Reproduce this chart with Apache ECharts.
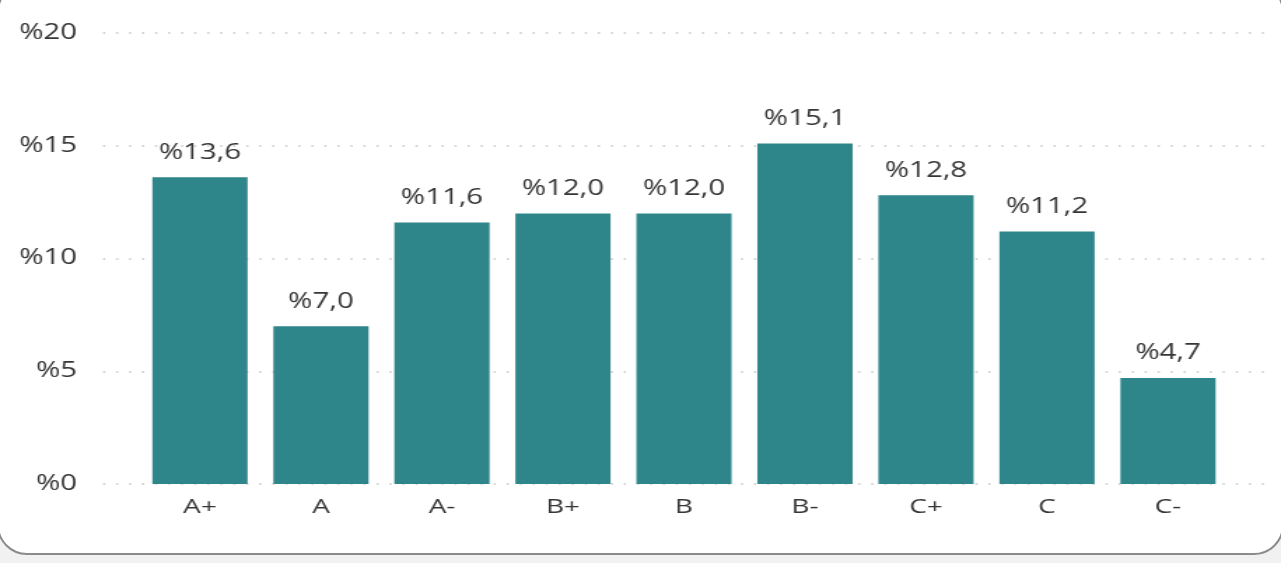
<!DOCTYPE html>
<html>
<head>
<meta charset="utf-8">
<script src="https://cdn.jsdelivr.net/npm/echarts@6/dist/echarts.min.js"></script>
<style>
  html, body { margin: 0; padding: 0; width: 1281px; height: 563px; overflow: hidden; background: #f1f1f1; }
  #card { position: absolute; left: -3px; top: -18px; width: 1287px; height: 573px; border: 2.5px solid #8a8a8a; border-radius: 30px; background: #ffffff; box-sizing: border-box; }
  #chart { position: absolute; left: 0; top: 0; width: 915px; height: 563px; transform: scaleX(1.4); transform-origin: 0 0; }
</style>
</head>
<body>
<div id="card"></div>
<div id="chart"></div>
<script>
const categories = ['A+', 'A', 'A-', 'B+', 'B', 'B-', 'C+', 'C', 'C-'];
const values = [13.6, 7.0, 11.6, 12.0, 12.0, 15.1, 12.8, 11.2, 4.7];
const yTicks = [0, 5, 10, 15, 20];

const FONT = 'Open Sans';
const TEXT = '#363636';

const chart = echarts.init(document.getElementById('chart'), null, { renderer: 'canvas' });
chart.setOption({
  animation: false,
  backgroundColor: 'transparent',
  grid: [
    { left: 73.6, right: 11.4, top: 33, bottom: 79, containLabel: false },
    { left: 99.6, right: 37.5, top: 33, bottom: 79, containLabel: false }
  ],
  xAxis: [
    { gridIndex: 0, type: 'value', min: 0, max: 1, show: false },
    {
      gridIndex: 1, type: 'category', data: categories,
      axisLine: { show: false }, axisTick: { show: false },
      axisLabel: { color: TEXT, fontFamily: FONT, fontSize: 20, margin: 13 }
    }
  ],
  yAxis: [
    {
      gridIndex: 0, type: 'value', min: yTicks[0], max: yTicks[yTicks.length - 1], interval: 5,
      axisLine: { show: false }, axisTick: { show: false },
      axisLabel: { color: TEXT, fontFamily: FONT, fontSize: 21, margin: 18.5, formatter: v => '%' + v },
      splitLine: { show: true, lineStyle: { color: '#c4c4c4', width: 1.5, type: [1.5, 7.8] } }
    },
    {
      gridIndex: 1, type: 'value', min: yTicks[0], max: yTicks[yTicks.length - 1], interval: 5,
      show: false, splitLine: { show: false }
    }
  ],
  series: [{
    type: 'bar',
    xAxisIndex: 1, yAxisIndex: 1,
    data: values,
    barWidth: 68,
    itemStyle: { color: '#2e858a' },
    label: {
      show: true, position: 'top', distance: 14,
      color: TEXT, fontFamily: FONT, fontSize: 21,
      formatter: p => '%' + p.value.toFixed(1).replace('.', ',')
    }
  }]
});
</script>
</body>
</html>
